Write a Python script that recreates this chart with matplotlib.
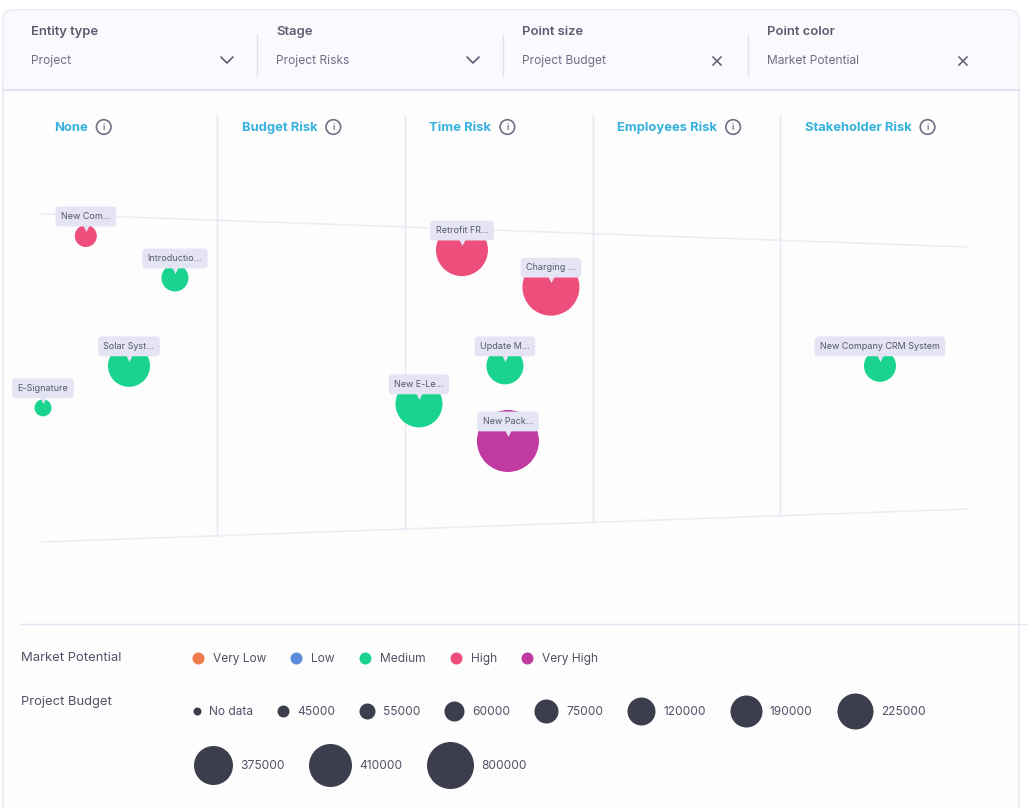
import numpy as np
import matplotlib
matplotlib.use("Agg")
import matplotlib.pyplot as plt
from matplotlib.patches import FancyBboxPatch, Circle, Rectangle
from matplotlib.transforms import offset_copy

plt.rcParams['font.family'] = ['Inter', 'DejaVu Sans']

# ---- data ----
filter_names = ["Entity type", "Stage", "Point size", "Point color"]
filter_values = ["Project", "Project Risks", "Project Budget", "Market Potential"]
filter_icons = ["chevron", "chevron", "cross", "cross"]

stages = ["None", "Budget Risk", "Time Risk", "Employees Risk", "Stakeholder Risk"]

labels = ["New Com...", "Introductio...", "Solar Syst...", "E-Signature",
          "Retrofit FR...", "Charging ...", "Update M...", "New E-Le...",
          "New Pack...", "New Company CRM System"]
stage_of = ["None", "None", "None", "None",
            "Time Risk", "Time Risk", "Time Risk", "Time Risk",
            "Time Risk", "Stakeholder Risk"]
pos_in_stage = [0.30, 0.775, 0.53, 0.072, 0.304, 0.778, 0.533, 0.075, 0.549, 0.531]
level = [93.3, 80.5, 53.7, 40.9, 89.0, 77.7, 53.7, 42.1, 30.8, 53.7]
budget = [55000, 60000, 190000, 45000, 375000, 410000, 120000, 225000, 800000, 75000]
potential = ["High", "Medium", "Medium", "Medium", "High", "High",
             "Medium", "Medium", "Very High", "Medium"]

potential_levels = ["Very Low", "Low", "Medium", "High", "Very High"]
potential_colors = ["#F07B4B", "#5B8BDB", "#19D38E", "#EE4E7C", "#C03A9F"]
budget_levels = ["No data", 45000, 55000, 60000, 75000, 120000, 190000,
                 225000, 375000, 410000, 800000]

W, H = 1027, 808
fig = plt.figure(figsize=(W / 100, H / 100), dpi=100)
fig.patch.set_facecolor("#FFFFFF")
bg = fig.add_axes([0, 0, 1, 1])
bg.set_xlim(0, W)
bg.set_ylim(H, 0)
bg.axis("off")

px = 0.72  # points per pixel at dpi 100
line_c = "#E7E7F3"
head_c = "#5C5E70"
val_c = "#6E7084"

# card + header
bg.add_patch(FancyBboxPatch((3, 10), 1016, 840, boxstyle="round,pad=0,rounding_size=10",
                            fc="#FDFDFE", ec="#E6E6F3", lw=1))
bg.add_patch(FancyBboxPatch((3.5, 10.5), 1015, 79, boxstyle="round,pad=0,rounding_size=10",
                            fc="#F9F9FE", ec="none"))
bg.add_patch(Rectangle((3.5, 40), 1015, 49, fc="#F9F9FE", ec="none"))
bg.plot([3, 1019], [90, 90], color="#E3E3F1", lw=1.6)

col_x = [31, 276, 522, 767]
icon_x = [227, 473, 717, 963]
for i, (nm, vl, ic) in enumerate(zip(filter_names, filter_values, filter_icons)):
    bg.text(col_x[i], 32, nm, fontsize=13 * px, fontweight="semibold", color=head_c, va="center")
    bg.text(col_x[i], 61, vl, fontsize=12 * px, color=val_c, va="center")
    cx = icon_x[i]
    if ic == "chevron":
        bg.plot([cx - 6, cx, cx + 6], [57, 63, 57], color="#5C5E70", lw=1.2, solid_capstyle="round")
    else:
        bg.plot([cx - 4, cx + 4], [57, 65], color="#5C5E70", lw=1.1)
        bg.plot([cx - 4, cx + 4], [65, 57], color="#5C5E70", lw=1.1)
    if i > 0:
        bg.plot([col_x[i] - 19] * 2, [34, 76], color="#E3E3F0", lw=1)

# chart area
x0, x1 = 29.5, 968
y_top, y_bot = 214, 542
col_w = (x1 - x0) / len(stages)

# funnel outline
bg.plot([42, x1], [214, 247], color="#ECECF6", lw=1.2)
bg.plot([42, x1], [542, 509], color="#ECECF6", lw=1.2)
for k in range(1, len(stages)):
    xd = x0 + k * col_w
    yb = 542 + (509 - 542) * (xd - 42) / (x1 - 42)
    bg.plot([xd, xd], [115, yb], color=line_c, lw=1)

renderer = fig.canvas.get_renderer()


def text_w(t):
    bb = t.get_window_extent(renderer=renderer)
    return bb.width


# stage headers
for k, st in enumerate(stages):
    tx = x0 + k * col_w + 24.5
    t = bg.text(tx, 128, st, fontsize=13 * px, fontweight="bold", color="#37B1DE", va="center")
    ix = tx + text_w(t) + 8.5 + 7.5
    bg.add_patch(Circle((ix, 127), 7.3, fc="none", ec="#6E7084", lw=1.2))
    bg.text(ix, 127.5, "i", fontsize=8 * px, color="#6E7084", ha="center", va="center", fontweight="bold")

ax = fig.add_axes([x0 / W, 1 - y_bot / H, (x1 - x0) / W, (y_bot - y_top) / H])
ax.set_xlim(0, len(stages))
ax.set_ylim(0, 100)
ax.axis("off")

ranks = {b: i for i, b in enumerate(sorted(set(budget)))}
xs = np.array([stages.index(s) + p for s, p in zip(stage_of, pos_in_stage)])
ys = np.array(level)
radii = np.array([6 + 2.5 * (ranks[b] + 1) for b in budget])
cols = [potential_colors[potential_levels.index(p)] for p in potential]
ax.scatter(xs, ys, s=(2 * radii * px) ** 2, c=cols, linewidths=0, clip_on=False, zorder=2)

# little pointer under each label box
tri = offset_copy(ax.transData, fig=fig, x=0, y=9 * px, units="points")
ax.scatter(xs, ys, s=(9 * px) ** 2, marker="v", color="#E4E4F4", transform=tri,
           linewidths=0, clip_on=False, zorder=3)
for x, y, lb in zip(xs, ys, labels):
    ax.annotate(lb, (x, y), xytext=(0, 19.5 * px), textcoords="offset points",
                ha="center", va="center", fontsize=9 * px, color="#55576B", zorder=4,
                bbox=dict(boxstyle="round,pad=0.6,rounding_size=0.4", fc="#E4E4F4", ec="none"),
                annotation_clip=False)

# legend
bg.plot([21, W], [624, 624], color="#E3E3F1", lw=1)
bg.text(21, 658, "Market Potential", fontsize=13 * px, color="#505265", va="center")
bg.text(21, 702, "Project Budget", fontsize=13 * px, color="#505265", va="center")

xl = 192
for nm, c in zip(potential_levels, potential_colors):
    bg.scatter([xl + 6], [658], s=(12 * px) ** 2, color=c, linewidths=0)
    t = bg.text(xl + 21, 659, nm, fontsize=12 * px, color="#505265", va="center")
    xl = xl + 21 + text_w(t) + 24

xl, yl = 193, 711
for i, b in enumerate(budget_levels):
    r = 4 + 2 * i if i < 8 else 4 + 2 * i - 0.5
    lab = str(b)
    if xl + 2 * r + 8 + 45 > 1000:
        xl, yl = 193, 765
    bg.scatter([xl + r], [yl], s=(2 * r * px) ** 2, color="#3C3E4E", linewidths=0)
    t = bg.text(xl + 2 * r + 8, yl + 1, lab, fontsize=12 * px, color="#505265", va="center")
    xl = xl + 2 * r + 8 + text_w(t) + 24

fig.savefig("out.png", dpi=100, facecolor=fig.get_facecolor())
